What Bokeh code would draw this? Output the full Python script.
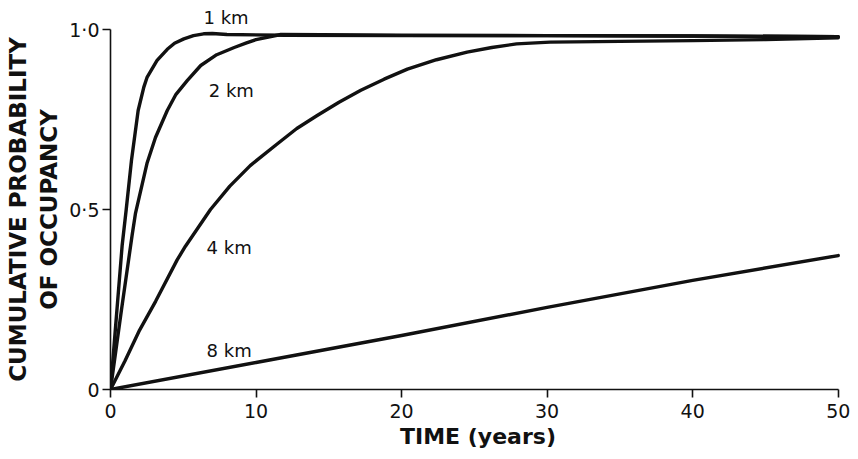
from bokeh.plotting import figure
from bokeh.models import Range1d, FixedTicker, Label, Title
from bokeh.embed import file_html
from bokeh.resources import INLINE

# ---- data ----
t_1km = [0, 0.4, 0.8, 1.08, 1.44, 1.9, 2.29, 2.52, 3.2, 3.9, 4.4, 5.04, 5.7, 6.4, 7.0, 8.0, 12.0, 20.0, 30.0, 40.0, 50.0]
p_1km = [0, 0.2, 0.4, 0.5, 0.636, 0.775, 0.84, 0.868, 0.914, 0.945, 0.962, 0.974, 0.983, 0.988, 0.989, 0.986, 0.984, 0.983, 0.983, 0.982, 0.98]

t_2km = [0, 0.75, 1.49, 1.72, 2.52, 3.09, 3.9, 4.5, 5.27, 6.2, 7.3, 8.5, 9.3, 10.0, 11.7, 20.0, 30.0, 40.0, 50.0]
p_2km = [0, 0.22, 0.43, 0.49, 0.63, 0.70, 0.775, 0.82, 0.858, 0.9, 0.93, 0.95, 0.962, 0.972, 0.986, 0.984, 0.983, 0.982, 0.98]

t_4km = [0, 1.0, 2.0, 3.1, 4.58, 5.15, 6.87, 8.2, 9.6, 11.45, 12.8, 14.2, 15.7, 17.2, 18.8, 20.4, 22.4, 24.5, 26.2, 27.9, 30.2, 35.0, 40.0, 45.0, 50.0]
p_4km = [0, 0.08, 0.165, 0.245, 0.36, 0.398, 0.50, 0.565, 0.622, 0.682, 0.725, 0.761, 0.798, 0.831, 0.862, 0.89, 0.916, 0.937, 0.95, 0.96, 0.965, 0.967, 0.969, 0.972, 0.977]

t_8km = [0, 10, 20, 30, 40, 50]
p_8km = [0, 0.075, 0.15, 0.228, 0.303, 0.372]

series_labels = ["1  km", "2 km", "4 km", "8 km"]
x_ticks = [0, 10, 20, 30, 40, 50]
y_ticks = [0, 0.5, 1.0]
y_tick_labels = ["0", "0·5", "1·0"]

# label anchor positions (data units) for the in-frame labels
label_x = [6.75, 6.6, 6.6]
label_y = [0.83, 0.394, 0.108]

p = figure(width=858, height=459, output_backend="svg", toolbar_location=None,
           x_range=Range1d(0, 50.5), y_range=Range1d(0, 1.0),
           min_border_left=110, min_border_right=13, min_border_top=29, min_border_bottom=70)
p.outline_line_color = None
p.grid.visible = False
p.background_fill_color = "white"
p.border_fill_color = "white"

lw = 3.4
for t, pr in [(t_1km, p_1km), (t_2km, p_2km), (t_4km, p_4km), (t_8km, p_8km)]:
    p.line(t, pr, line_color="#111111", line_width=lw, line_join="round", line_cap="round")

for lx, ly, lt in zip(label_x, label_y, series_labels[1:]):
    p.add_layout(Label(x=lx, y=ly, text=lt, text_font="DejaVu Sans", text_font_size="18px",
                       text_color="#111111", text_baseline="alphabetic", text_align="left"))

# "1 km" sits just above the frame, so it goes in the top panel
p.add_layout(Title(text=series_labels[0], align="left", offset=93, standoff=3,
                   text_font="DejaVu Sans", text_font_size="18px", text_font_style="normal",
                   text_color="#111111"), "above")

# axes
for ax in (p.xaxis[0], p.yaxis[0]):
    ax.axis_line_color = "#111111"
    ax.axis_line_width = 1.6
    ax.major_tick_line_color = "#111111"
    ax.major_tick_line_width = 1.6
    ax.major_tick_out = 8
    ax.major_tick_in = 0
    ax.minor_tick_line_color = None
    ax.major_label_text_font = "DejaVu Sans"
    ax.major_label_text_font_size = "19px"
    ax.major_label_text_color = "#111111"
    ax.axis_label_text_font = "DejaVu Sans"
    ax.axis_label_text_font_style = "bold"
    ax.axis_label_text_color = "#111111"

p.xaxis.axis_label_text_font_size = "22px"
p.yaxis.axis_label_text_font_size = "23px"

p.xaxis.ticker = FixedTicker(ticks=x_ticks)
p.xaxis.bounds = (0, 50)
p.xaxis.major_label_standoff = 6
p.xaxis.axis_label = "TIME (years)"
p.xaxis.axis_label_standoff = 3

p.yaxis.ticker = FixedTicker(ticks=y_ticks)
p.yaxis.major_label_overrides = {t: l for t, l in zip(y_ticks, y_tick_labels)}
p.yaxis.major_label_standoff = 3
p.yaxis.axis_label = "CUMULATIVE PROBABILITY\nOF OCCUPANCY"
p.yaxis.axis_label_standoff = 4

open("out.html", "w").write(file_html(p, INLINE))
